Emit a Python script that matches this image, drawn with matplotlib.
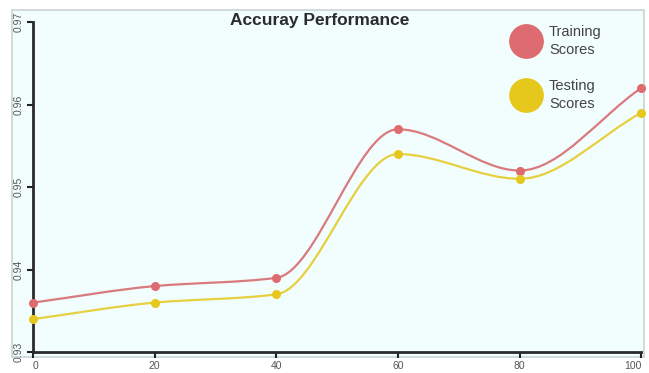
import numpy as np
import matplotlib.pyplot as plt
from matplotlib.path import Path
from matplotlib.patches import PathPatch, Rectangle
from matplotlib.lines import Line2D

plt.rcParams['font.family'] = ['Liberation Sans', 'DejaVu Sans']

epochs = [0, 20, 40, 60, 80, 100]
training = [0.936, 0.938, 0.939, 0.957, 0.952, 0.962]
testing = [0.934, 0.936, 0.937, 0.954, 0.951, 0.959]
xticks = [0, 20, 40, 60, 80, 100]
yticks = [0.93, 0.94, 0.95, 0.96, 0.97]

red = '#de6b6f'
red_line = '#d97a7e'
yellow = '#e6c81c'
yellow_line = '#e6d040'
bg = '#f2fdfd'


def smooth_path(x, y):
    # monotone cubic hermite curve written as bezier segments
    x = np.asarray(x, float)
    y = np.asarray(y, float)
    h = np.diff(x)
    d = np.diff(y) / h
    m = np.zeros_like(y)
    m[0], m[-1] = d[0], d[-1]
    for i in range(1, len(x) - 1):
        if d[i - 1] * d[i] > 0:
            w1 = 2 * h[i] + h[i - 1]
            w2 = h[i] + 2 * h[i - 1]
            m[i] = (w1 + w2) / (w1 / d[i - 1] + w2 / d[i])
    verts = [(x[0], y[0])]
    codes = [Path.MOVETO]
    for i in range(len(x) - 1):
        verts += [(x[i] + h[i] / 3, y[i] + m[i] * h[i] / 3),
                  (x[i + 1] - h[i] / 3, y[i + 1] - m[i + 1] * h[i] / 3),
                  (x[i + 1], y[i + 1])]
        codes += [Path.CURVE4] * 3
    return Path(verts, codes)


fig = plt.figure(figsize=(6.49, 3.73), dpi=100, facecolor='white')
fig.patches.append(Rectangle((0.018, 0.043), 0.975, 0.93, transform=fig.transFigure,
                             facecolor=bg, edgecolor='#c9d3d3', linewidth=1.2, zorder=-5))

ax = fig.add_axes([0.051, 0.056, 0.937, 0.885])
ax.set_facecolor(bg)

for vals, col, lcol in [(training, red, red_line), (testing, yellow, yellow_line)]:
    ax.add_patch(PathPatch(smooth_path(epochs, vals), facecolor='none',
                           edgecolor=lcol, linewidth=1.6, zorder=2))
    ax.plot(epochs, vals, 'o', color=col, markersize=5.5, zorder=3, clip_on=False)

ax.set_xlim(0, 100)
ax.set_ylim(0.93, 0.97)
ax.set_xticks(xticks)
ax.set_yticks(yticks)
ax.set_yticklabels([f'{v:.2f}' for v in yticks], rotation=90, va='center')
ax.tick_params(axis='both', labelsize=7.5, labelcolor='#555555', color='#222222',
               width=1.5, length=4)
ax.tick_params(axis='y', pad=3)
ax.tick_params(axis='x', pad=2.5)
xl = ax.get_xticklabels()
xl[0].set_ha('left')
xl[-1].set_ha('right')
for s in ['top', 'right']:
    ax.spines[s].set_visible(False)
for s in ['left', 'bottom']:
    ax.spines[s].set_linewidth(2)
    ax.spines[s].set_color('#2a2a2a')

fig.text(0.492, 0.944, 'Accuray Performance', ha='center', va='center',
         fontsize=12.5, fontweight='bold', color='#2b2b2b')

handles = [Line2D([], [], marker='o', linestyle='none', color=red, markersize=24),
           Line2D([], [], marker='o', linestyle='none', color=yellow, markersize=24)]
leg = fig.legend(handles, ['Training\nScores', 'Testing\nScores'], loc='upper left',
                 bbox_to_anchor=(0.766, 0.967), frameon=False, fontsize=10.5,
                 labelcolor='#444444', handletextpad=0.45, labelspacing=1.55,
                 handlelength=2.2)
for t in leg.get_texts():
    t.set_linespacing(1.3)

fig.savefig('out.png', dpi=100, facecolor='white')
